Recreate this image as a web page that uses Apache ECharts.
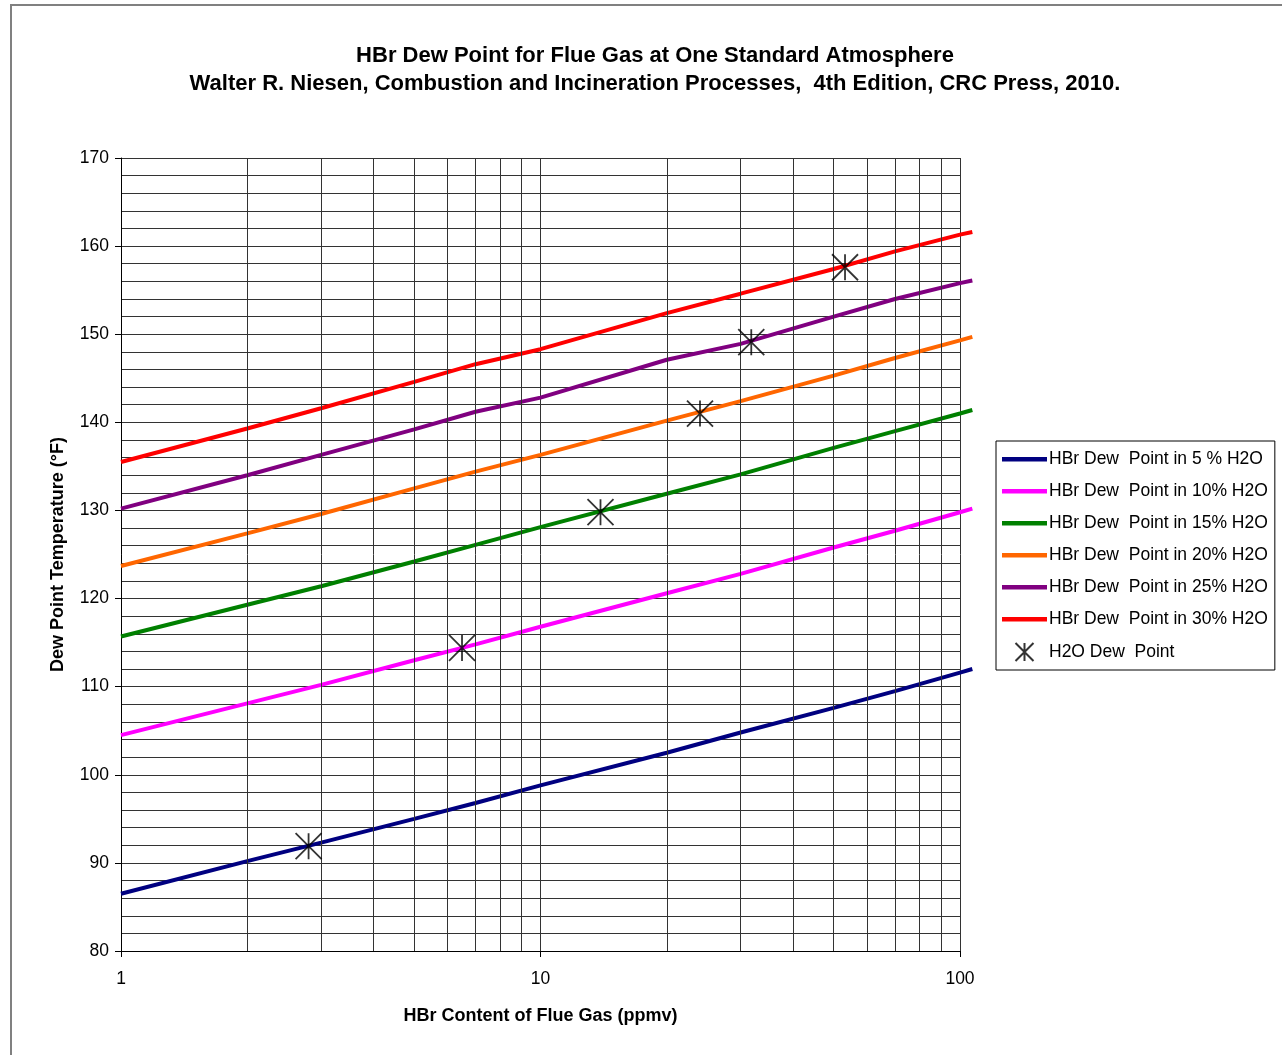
<!DOCTYPE html>
<html>
<head>
<meta charset="utf-8">
<script src="https://cdn.jsdelivr.net/npm/echarts@6/dist/echarts.min.js"></script>
<style>
  html, body { margin: 0; padding: 0; background: #fff; }
  #chart { width: 1282px; height: 1055px; }
</style>
</head>
<body>
<div id="chart"></div>
<script>
// HBr content (ppmv) at which the curves were read
const ppmv = [1, 2, 3, 5, 7, 10, 20, 30, 50, 70, 100, 107];

// dew point (°F) for each water content
const dew5 = [86.5, 90.2, 92.3, 95.0, 96.8, 98.8, 102.5, 104.8, 107.6, 109.5, 111.6, 112.0];
const dew10 = [104.5, 108.1, 110.2, 113.0, 114.8, 116.8, 120.6, 122.8, 125.8, 127.7, 129.8, 130.2];
const dew15 = [115.7, 119.3, 121.4, 124.2, 126.1, 128.1, 131.9, 134.1, 137.1, 139.0, 141.0, 141.4];
const dew20 = [123.7, 127.4, 129.6, 132.5, 134.4, 136.3, 140.2, 142.4, 145.3, 147.3, 149.3, 149.7];
const dew25 = [130.2, 134.0, 136.3, 139.2, 141.2, 142.8, 147.1, 148.9, 152.0, 154.0, 155.8, 156.1];
const dew30 = [135.5, 139.3, 141.6, 144.6, 146.6, 148.3, 152.4, 154.6, 157.4, 159.4, 161.3, 161.6];

// H2O dew points (the stars)
const h2oX = [2.8, 6.5, 13.9, 24.0, 31.8, 53.2];
const h2oY = [91.9, 114.4, 129.8, 141.0, 149.1, 157.6];

// minor log grid lines
const minorXTicks = [2, 3, 4, 5, 6, 7, 8, 9, 20, 30, 40, 50, 60, 70, 80, 90];

const seriesNames = [
  "HBr Dew  Point in 5 % H2O",
  "HBr Dew  Point in 10% H2O",
  "HBr Dew  Point in 15% H2O",
  "HBr Dew  Point in 20% H2O",
  "HBr Dew  Point in 25% H2O",
  "HBr Dew  Point in 30% H2O"
];
const starName = "H2O Dew  Point";
const seriesColors = ["#000080", "#ff00ff", "#008000", "#ff6600", "#800080", "#ff0000"];
const seriesData = [dew5, dew10, dew15, dew20, dew25, dew30];

const font = "'Liberation Sans', Arial, sans-serif";
const gridColor = "#333";

// plot frame
const plotLeft = 121, plotRight = 960, plotTop = 158, plotBottom = 951;
const W = 1282, H = 1055;
// the curves run a little past 100 ppmv, so they sit on a wider hidden axis
const xMaxCurves = 107;
const curvesRight = plotLeft + (plotRight - plotLeft) * Math.log10(xMaxCurves) / 2;

const chart = echarts.init(document.getElementById("chart"));

const lineSeries = seriesData.map((vals, i) => ({
  name: seriesNames[i],
  type: "line",
  xAxisIndex: 1,
  yAxisIndex: 1,
  data: ppmv.map((x, j) => [x, vals[j]]),
  symbol: "none",
  clip: false,
  lineStyle: { color: seriesColors[i], width: 4 },
  itemStyle: { color: seriesColors[i] },
  emphasis: { disabled: true },
  z: 3
}));

// minor vertical grid lines through the visible x scale
const gridSeries = {
  name: "minor grid",
  type: "line",
  xAxisIndex: 0,
  yAxisIndex: 0,
  data: [],
  silent: true,
  markLine: {
    silent: true,
    symbol: ["none", "none"],
    label: { show: false },
    lineStyle: { color: gridColor, width: 1, type: "solid" },
    emphasis: { disabled: true },
    data: minorXTicks.map(v => ({ xAxis: v }))
  },
  z: 1
};

const starPath = "path://M10,0L10,20M0,0L20,20M0,20L20,0";
const legendLinePath = "path://M0,0M0,7L45,7L45,11.5L0,11.5ZM45,18";

chart.setOption({
  animation: false,
  textStyle: { fontFamily: font },
  graphic: [{
    type: "rect",
    shape: { x: 11, y: 5, width: 1300, height: 1070 },
    style: { fill: "none", stroke: "#808080", lineWidth: 2 },
    silent: true
  }],
  title: {
    text: "HBr Dew Point for Flue Gas at One Standard Atmosphere\nWalter R. Niesen, Combustion and Incineration Processes,  4th Edition, CRC Press, 2010.",
    left: 650,
    top: 37,
    textAlign: "center",
    textStyle: { fontFamily: font, fontSize: 22, fontWeight: "bold", color: "#000", lineHeight: 28 }
  },
  legend: {
    orient: "vertical",
    left: 996,
    top: 441,
    padding: [9, 7, 8, 6],
    itemGap: 14,
    itemWidth: 45,
    itemHeight: 18,
    backgroundColor: "#fff",
    borderColor: "#000",
    borderWidth: 1,
    borderRadius: 0,
    textStyle: { fontFamily: font, fontSize: 17.5, color: "#000", padding: [0, 0, 0, -3] },
    data: seriesNames.map(n => ({ name: n, icon: legendLinePath, itemStyle: { borderWidth: 0 } }))
      .concat([{ name: starName }])
  },
  grid: [
    { left: plotLeft, right: W - plotRight, top: plotTop, bottom: H - plotBottom, containLabel: false },
    { left: plotLeft, right: W - curvesRight, top: plotTop, bottom: H - plotBottom, containLabel: false }
  ],
  xAxis: [{
    type: "log",
    logBase: 10,
    gridIndex: 0,
    min: 1,
    max: 100,
    name: "HBr Content of Flue Gas (ppmv)",
    nameLocation: "middle",
    nameGap: 56,
    nameTextStyle: { fontFamily: font, fontSize: 18, fontWeight: "bold", color: "#000" },
    axisLine: { show: true, lineStyle: { color: "#000", width: 1 } },
    axisTick: { show: true, length: 6, lineStyle: { color: "#000" } },
    axisLabel: { fontFamily: font, fontSize: 17.5, color: "#000", margin: 19 },
    splitLine: { show: true, lineStyle: { color: gridColor, width: 1 } }
  }, {
    type: "log",
    logBase: 10,
    gridIndex: 1,
    min: 1,
    max: xMaxCurves,
    show: false
  }],
  yAxis: [{
    type: "value",
    gridIndex: 0,
    min: 80,
    max: 170,
    interval: 10,
    name: "Dew Point Temperature (°F)",
    nameLocation: "middle",
    nameGap: 54,
    nameTextStyle: { fontFamily: font, fontSize: 18, fontWeight: "bold", color: "#000" },
    axisLine: { show: true, lineStyle: { color: "#000", width: 1 } },
    axisTick: { show: true, length: 6, lineStyle: { color: "#000" } },
    axisLabel: { fontFamily: font, fontSize: 17.5, color: "#000", margin: 12 },
    splitLine: { show: true, lineStyle: { color: gridColor, width: 1 } },
    minorTick: { show: false, splitNumber: 5 },
    minorSplitLine: { show: true, lineStyle: { color: gridColor, width: 1 } }
  }, {
    type: "value",
    gridIndex: 1,
    min: 80,
    max: 170,
    show: false
  }],
  series: [gridSeries].concat(lineSeries).concat([{
    name: starName,
    type: "scatter",
    xAxisIndex: 1,
    yAxisIndex: 1,
    data: h2oX.map((x, i) => [x, h2oY[i]]),
    symbol: starPath,
    symbolSize: 26,
    symbolKeepAspect: true,
    itemStyle: { color: "rgba(0,0,0,0)", borderColor: "#000", borderWidth: 1.8 },
    emphasis: { disabled: true },
    z: 5
  }])
});
</script>
</body>
</html>
